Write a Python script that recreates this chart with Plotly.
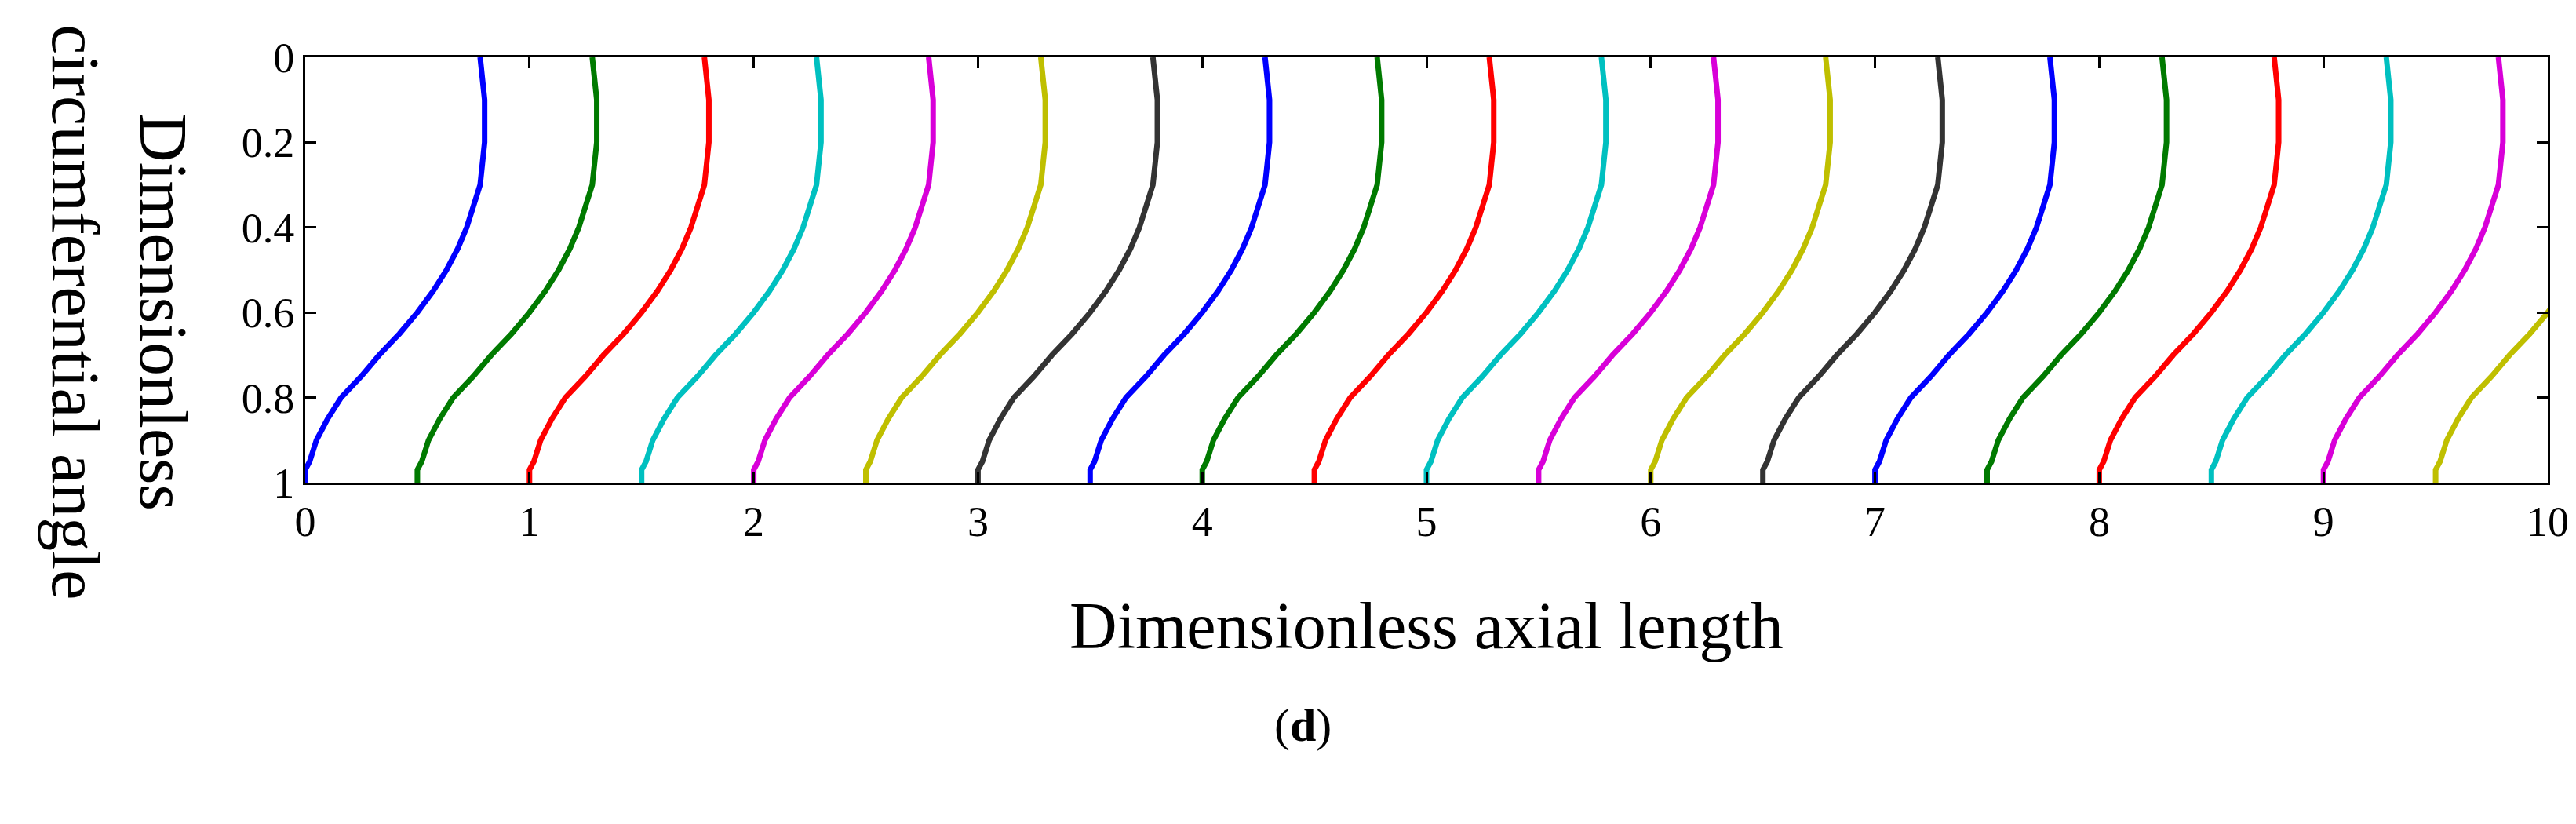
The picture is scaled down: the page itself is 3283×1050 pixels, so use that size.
import plotly.graph_objects as go

# one wave front shape: circumferential angle vs axial shift from its start
angle = [1, 0.97, 0.95, 0.9, 0.85, 0.8, 0.75, 0.7, 0.65, 0.6, 0.55, 0.5, 0.45,
         0.4, 0.35, 0.3, 0.25, 0.2, 0.15, 0.1, 0.05, 0]
shift = [0, 0.0, 0.02, 0.05, 0.1, 0.16, 0.25, 0.33, 0.42, 0.5, 0.57, 0.63, 0.68,
         0.72, 0.75, 0.78, 0.79, 0.8, 0.8, 0.8, 0.79, 0.78]
starts = [0, 0.5, 1, 1.5, 2, 2.5, 3, 3.5, 4, 4.5, 5, 5.5, 6, 6.5, 7, 7.5, 8, 8.5, 9, 9.5]
colors = ['#0000ff', '#007a00', '#ff0000', '#00c0c0', '#d800d8', '#bfbf00', '#333333']

fig = go.Figure()
for i, s in enumerate(starts):
    fig.add_trace(go.Scatter(x=[s + d for d in shift], y=angle, mode='lines',
                             line=dict(color=colors[i % len(colors)], width=7),
                             showlegend=False))

serif = 'Liberation Serif'
axis = dict(showgrid=False, zeroline=False, showline=True, linecolor='black', linewidth=3,
            mirror='ticks', ticks='inside', ticklen=14, tickwidth=3, tickcolor='black',
            tickfont=dict(family=serif, size=54, color='black'))
fig.update_xaxes(range=[0, 10], dtick=1, **axis)
fig.update_yaxes(range=[1, 0], tickvals=[0, 0.2, 0.4, 0.6, 0.8, 1],
                 ticktext=['0', '0.2', '0.4', '0.6', '0.8', '1'], **axis)

fig.add_annotation(text='Dimensionless axial length', xref='paper', yref='paper',
                   x=0.5, y=-0.336, yanchor='middle', showarrow=False,
                   font=dict(family=serif, size=84, color='black'))
fig.add_annotation(text='Dimensionless<br>circumferential angle', textangle=90,
                   xref='paper', yref='paper', x=-0.083, y=1.08, yanchor='top', xanchor='center',
                   showarrow=False, align='center',
                   font=dict(family=serif, size=86, color='black'))
fig.add_annotation(text='(<b>d</b>)', xref='paper', yref='paper', x=0.445, y=-0.57,
                   yanchor='middle', showarrow=False,
                   font=dict(family=serif, size=60, color='black'))

fig.update_layout(width=3283, height=1050, plot_bgcolor='white', paper_bgcolor='white',
                  margin=dict(l=381, r=44, t=65, b=443))
fig.write_html("out.html")
